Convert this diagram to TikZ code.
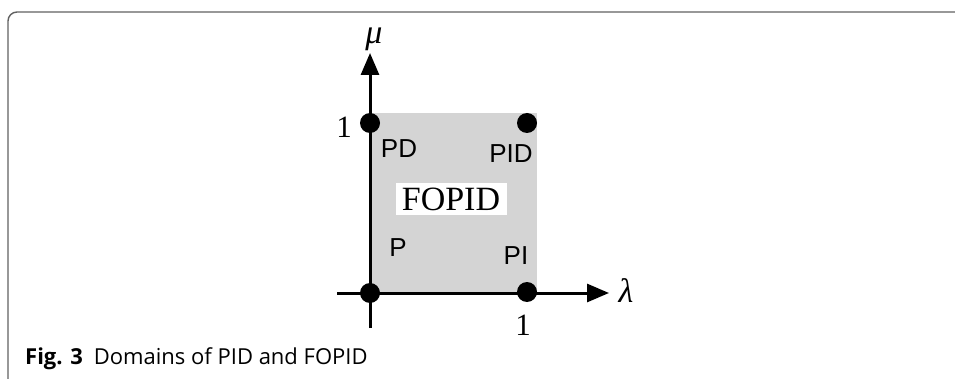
\documentclass[tikz,border=0pt]{standalone}
\usepackage{fontspec}
\setmainfont{Liberation Serif}
\newfontfamily\labfont{Liberation Sans}
\newfontfamily\capfont{Open Sans}
\usetikzlibrary{arrows.meta}
\begin{document}
\begin{tikzpicture}[x=1pt,y=-1pt,
  axisline/.style={line width=3pt,-{Triangle[length=22pt,width=18pt]}},
  dotmark/.style={circle,fill=black,inner sep=0pt,minimum size=20pt},
  sanslab/.style={font=\labfont\fontsize{26}{26}\selectfont,inner sep=0pt},
  seriflab/.style={font=\fontsize{31}{31}\selectfont,inner sep=0pt},
  greeklab/.style={font=\itshape\fontsize{34}{34}\selectfont,inner sep=0pt},
  framecol/.style={draw=black!62,line width=1.4pt}]
\useasboundingbox (0,0) rectangle (955,379);
% frame
\draw[framecol,rounded corners=9pt] (8,379) -- (8,12) -- (960,12);
% domain
\fill[black!17] (370,113) rectangle (537,293);
% axes
\coordinate (o) at (370,293);
\coordinate (vb) at (370,328);
\coordinate (vt) at (370,53);
\coordinate (hl) at (337,293);
\coordinate (hr) at (609,293);
\draw[line width=3pt] (vb) -- (o);
\draw[line width=3pt] (hl) -- (o);
\draw[axisline] (o) -- (vt);
\draw[axisline] (o) -- (hr);
% dots
\node[dotmark] (p) at (370,293) {};
\node[dotmark] (pd) at (370,123) {};
\node[dotmark] (pid) at (527,123) {};
\node[dotmark] (pi) at (527,292) {};
% labels
\node[seriflab] (one1) at (344,127) {1};
\node[seriflab] (one2) at (523,325) {1};
\node[sanslab] (lpd) at (399,149) {PD};
\node[sanslab] (lpid) at (511,154) {PID};
\node[sanslab] (lp) at (398,248) {P};
\node[sanslab] (lpi) at (516,256) {PI};
\node[fill=white,inner xsep=3pt,inner ysep=1pt,minimum width=111pt,minimum height=32pt,font=\fontsize{34}{34}\selectfont] (fopid) at (451,199) {FOPID};
\node[greeklab,anchor=base] (mu) at (374,44) {μ};
\node[greeklab,anchor=base] (lam) at (626,302) {λ};
% caption
\node[anchor=base west,inner sep=0pt,font=\capfont\fontsize{22}{22}\selectfont] (cap) at (25,364) {\textbf{Fig. 3}\hspace{11pt}Domains of PID and FOPID};
\end{tikzpicture}
\end{document}
